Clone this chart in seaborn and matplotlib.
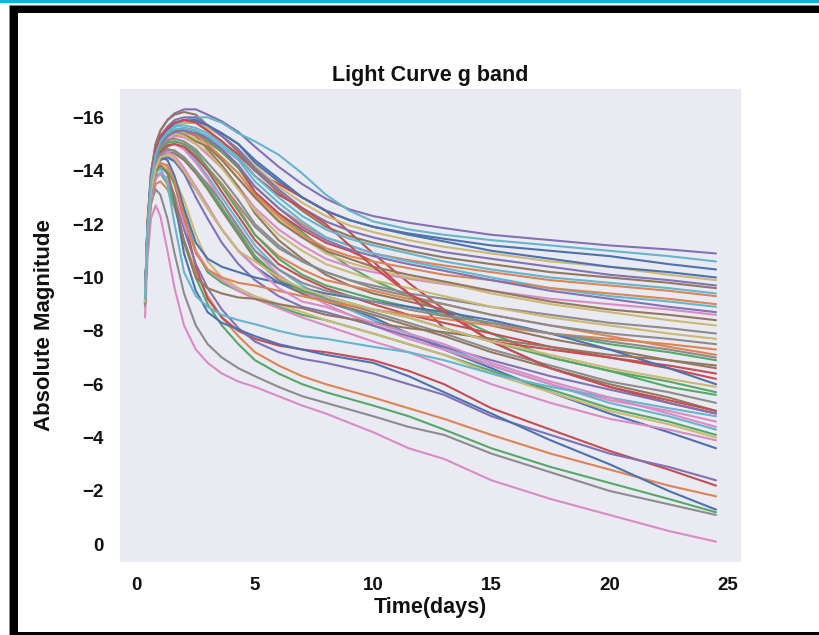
import matplotlib
matplotlib.use("Agg")
import matplotlib.pyplot as plt
from matplotlib.patches import Rectangle
import pandas as pd
import seaborn as sns

# Sampling epochs (days since explosion) shared by every model light curve
days = [0.35, 0.45, 0.6, 0.8, 1.0, 1.3, 1.6, 2.0, 2.5, 3.0, 3.6, 4.3, 5.0,
        6.0, 7.0, 8.0, 9.0, 10.0, 11.5, 13.0, 15.0, 17.5, 20.0, 22.5, 24.5]

# g-band absolute magnitudes, one list per model
mag_00 = [-9.1, -11.8, -13.5, -14.6, -15.1, -15.5, -15.75, -15.9, -15.9, -15.7, -15.4, -15.0, -14.3, -13.6, -13.0, -12.5, -12.15, -11.9, -11.65, -11.45, -11.2, -11.0, -10.8, -10.5, -10.3]
mag_01 = [-9.0, -11.6, -13.3, -14.4, -14.9, -15.25, -15.45, -15.5, -15.4, -15.1, -14.7, -14.1, -13.4, -12.6, -12.0, -11.5, -11.2, -10.9, -10.65, -10.45, -10.2, -9.9, -9.7, -9.5, -9.3]
mag_02 = [-9.3, -11.7, -13.3, -14.3, -14.8, -15.1, -15.3, -15.4, -15.4, -15.1, -14.7, -14.1, -13.2, -12.4, -11.7, -11.0, -10.4, -9.9, -9.3, -8.7, -7.9, -7.0, -6.5, -5.9, -5.6]
mag_03 = [-9.2, -11.9, -13.6, -14.6, -15.1, -15.45, -15.65, -15.8, -15.8, -15.5, -15.1, -14.6, -14.0, -13.5, -13.0, -12.5, -11.7, -10.9, -9.8, -8.8, -7.6, -6.6, -5.9, -5.3, -4.9]
mag_04 = [-9.3, -12.0, -13.9, -15.0, -15.5, -15.9, -16.15, -16.3, -16.3, -16.1, -15.85, -15.45, -14.9, -14.15, -13.5, -12.95, -12.55, -12.3, -12.05, -11.85, -11.6, -11.4, -11.2, -11.05, -10.9]
mag_05 = [-9.2, -12.0, -13.9, -15.0, -15.5, -15.9, -16.1, -16.2, -16.1, -15.7, -15.3, -14.7, -14.0, -13.2, -12.5, -11.9, -11.55, -11.3, -11.0, -10.75, -10.5, -10.2, -10.0, -9.8, -9.6]
mag_06 = [-9.0, -11.7, -13.4, -14.4, -14.8, -15.15, -15.3, -15.25, -15.0, -14.6, -14.1, -13.4, -12.6, -11.8, -11.2, -10.7, -10.4, -10.2, -9.95, -9.75, -9.5, -9.2, -9.0, -8.8, -8.6]
mag_07 = [-8.9, -11.5, -13.2, -14.2, -14.6, -14.9, -15.0, -14.9, -14.6, -14.1, -13.5, -12.7, -11.9, -11.1, -10.6, -10.2, -9.9, -9.7, -9.4, -9.2, -8.9, -8.6, -8.3, -8.1, -7.9]
mag_08 = [-9.1, -11.8, -13.5, -14.6, -15.1, -15.45, -15.65, -15.8, -15.8, -15.6, -15.3, -14.8, -14.2, -13.4, -12.8, -12.3, -11.95, -11.7, -11.4, -11.15, -10.9, -10.6, -10.4, -10.1, -9.9]
mag_09 = [-9.3, -11.6, -13.3, -14.4, -14.9, -15.4, -15.7, -15.9, -16.0, -16.0, -15.8, -15.4, -15.1, -14.6, -13.9, -13.1, -12.5, -12.1, -11.8, -11.6, -11.4, -11.2, -11.0, -10.8, -10.6]
mag_10 = [-9.0, -11.6, -13.3, -14.1, -14.4, -14.5, -14.35, -13.9, -13.3, -12.6, -11.8, -11.0, -10.4, -9.8, -9.4, -9.1, -8.8, -8.5, -7.9, -7.3, -6.6, -5.7, -4.9, -4.2, -3.6]
mag_11 = [-9.0, -11.3, -12.7, -13.5, -13.6, -13.3, -12.6, -11.4, -10.2, -9.3, -8.5, -7.8, -7.2, -6.7, -6.3, -6.0, -5.75, -5.5, -5.1, -4.7, -4.1, -3.4, -2.8, -2.2, -1.8]
mag_12 = [-9.1, -11.5, -13.0, -13.8, -13.9, -13.5, -12.7, -11.4, -10.0, -9.0, -8.2, -7.5, -6.9, -6.4, -6.0, -5.7, -5.45, -5.2, -4.8, -4.3, -3.6, -2.9, -2.3, -1.7, -1.2]
mag_13 = [-9.1, -11.6, -13.2, -14.0, -14.2, -14.1, -13.5, -12.2, -10.4, -9.2, -8.5, -8.0, -7.7, -7.45, -7.3, -7.2, -7.05, -6.9, -6.5, -6.0, -5.1, -4.3, -3.5, -2.8, -2.2]
mag_14 = [-9.0, -11.4, -12.9, -13.7, -13.9, -13.7, -13.0, -11.8, -10.5, -9.6, -8.8, -8.1, -7.6, -7.2, -6.95, -6.8, -6.6, -6.4, -6.0, -5.6, -4.8, -4.1, -3.4, -2.9, -2.4]
mag_15 = [-9.1, -11.7, -13.5, -14.5, -15.0, -15.3, -15.45, -15.5, -15.3, -14.8, -14.2, -13.4, -12.4, -11.4, -10.7, -10.1, -9.7, -9.4, -9.1, -8.8, -8.2, -7.7, -7.3, -6.9, -6.6]
mag_16 = [-8.5, -10.6, -12.2, -12.7, -12.3, -11.0, -9.6, -8.2, -7.3, -6.8, -6.4, -6.1, -5.9, -5.55, -5.2, -4.9, -4.55, -4.2, -3.6, -3.2, -2.4, -1.7, -1.1, -0.5, -0.1]
mag_17 = [-9.0, -11.2, -12.8, -13.3, -13.1, -12.2, -10.9, -9.4, -8.2, -7.5, -7.0, -6.6, -6.3, -5.9, -5.55, -5.3, -5.05, -4.8, -4.4, -4.1, -3.4, -2.7, -2.0, -1.5, -1.1]
mag_18 = [-9.0, -11.6, -13.4, -14.5, -15.0, -15.3, -15.4, -15.4, -15.2, -14.9, -14.4, -13.7, -13.0, -12.2, -11.5, -10.9, -10.55, -10.3, -10.0, -9.8, -9.4, -9.0, -8.7, -8.4, -8.2]
mag_19 = [-9.2, -11.6, -13.3, -14.3, -14.7, -14.95, -15.0, -14.85, -14.4, -13.8, -13.0, -12.1, -11.2, -10.3, -9.7, -9.2, -8.8, -8.4, -7.9, -7.4, -6.7, -6.0, -5.3, -4.8, -4.3]
mag_20 = [-9.1, -11.6, -13.2, -14.0, -14.2, -13.9, -12.9, -10.9, -9.5, -8.7, -8.3, -8.05, -7.8, -7.5, -7.3, -7.1, -6.95, -6.8, -6.3, -5.7, -4.9, -3.9, -3.0, -2.0, -1.3]
mag_21 = [-9.0, -11.6, -13.3, -14.3, -14.8, -15.05, -15.1, -15.0, -14.7, -14.1, -13.5, -12.6, -11.6, -10.8, -10.3, -9.9, -9.7, -9.5, -9.2, -9.0, -8.6, -8.2, -7.8, -7.4, -7.1]
mag_22 = [-9.1, -11.5, -13.1, -13.9, -14.1, -14.0, -13.5, -12.4, -11.0, -10.2, -9.8, -9.5, -9.2, -8.9, -8.6, -8.4, -8.15, -7.9, -7.5, -7.1, -6.5, -5.8, -5.1, -4.6, -4.1]
mag_23 = [-9.2, -11.8, -13.5, -14.5, -15.0, -15.3, -15.5, -15.6, -15.5, -15.2, -14.8, -14.2, -13.2, -12.4, -11.8, -11.3, -11.0, -10.6, -9.4, -8.1, -7.6, -7.3, -7.0, -6.7, -6.4]
mag_24 = [-9.1, -11.9, -13.7, -14.8, -15.3, -15.65, -15.9, -16.0, -16.0, -15.7, -15.3, -14.8, -14.1, -13.3, -12.6, -12.1, -11.75, -11.5, -11.2, -10.95, -10.7, -10.4, -10.1, -9.9, -9.7]
mag_25 = [-9.0, -11.5, -13.2, -14.1, -14.5, -14.7, -14.65, -14.4, -13.9, -13.3, -12.5, -11.6, -10.7, -9.9, -9.4, -9.1, -8.85, -8.6, -8.2, -7.8, -7.2, -6.6, -6.0, -5.5, -5.0]
mag_26 = [-9.1, -11.7, -13.4, -14.3, -14.7, -14.95, -15.0, -14.8, -14.3, -13.7, -12.8, -11.8, -11.0, -10.1, -9.5, -9.0, -8.6, -8.2, -7.7, -7.3, -6.7, -6.0, -5.4, -5.0, -4.6]
mag_27 = [-9.0, -11.6, -13.3, -14.2, -14.6, -14.8, -14.75, -14.5, -14.0, -13.4, -12.6, -11.7, -10.8, -10.0, -9.5, -9.2, -8.95, -8.7, -8.3, -7.9, -7.3, -6.7, -6.1, -5.7, -5.3]
mag_28 = [-9.0, -11.5, -13.1, -14.0, -14.2, -14.1, -13.7, -12.9, -11.6, -10.6, -10.0, -9.6, -9.3, -9.0, -8.7, -8.4, -8.15, -7.9, -7.5, -7.1, -6.4, -5.7, -5.0, -4.5, -4.0]
mag_29 = [-9.2, -11.8, -13.5, -14.6, -15.1, -15.4, -15.55, -15.6, -15.5, -15.3, -14.9, -14.4, -13.6, -12.8, -12.1, -11.5, -11.2, -10.9, -10.6, -10.35, -10.0, -9.6, -9.3, -9.1, -8.9]
mag_30 = [-9.1, -11.8, -13.6, -14.7, -15.2, -15.55, -15.8, -15.9, -15.85, -15.7, -15.4, -15.0, -14.4, -13.7, -13.0, -12.5, -12.15, -11.9, -11.6, -11.35, -11.0, -10.7, -10.4, -10.2, -10.0]
mag_31 = [-9.0, -11.7, -13.5, -14.5, -15.0, -15.3, -15.45, -15.5, -15.35, -15.0, -14.5, -13.9, -13.1, -12.3, -11.6, -11.1, -10.8, -10.6, -10.35, -10.1, -9.9, -9.6, -9.4, -9.2, -9.0]
mag_32 = [-9.1, -11.6, -13.4, -14.4, -14.8, -15.05, -15.1, -15.0, -14.7, -14.1, -13.4, -12.5, -11.6, -10.7, -10.1, -9.7, -9.45, -9.2, -8.9, -8.6, -8.3, -7.9, -7.5, -7.2, -6.9]
mag_33 = [-9.0, -11.6, -13.3, -14.3, -14.7, -14.95, -15.0, -14.9, -14.5, -14.0, -13.2, -12.3, -11.4, -10.5, -10.0, -9.6, -9.3, -9.0, -8.6, -8.3, -7.9, -7.4, -7.0, -6.6, -6.2]
mag_34 = [-9.1, -11.6, -13.2, -14.1, -14.5, -14.6, -14.4, -13.9, -13.0, -12.2, -11.3, -10.5, -9.9, -9.3, -8.9, -8.7, -8.45, -8.2, -7.8, -7.4, -6.9, -6.3, -5.8, -5.3, -4.9]
mag_35 = [-9.1, -11.7, -13.5, -14.5, -15.0, -15.3, -15.4, -15.35, -15.1, -14.9, -14.4, -13.7, -13.0, -12.1, -11.5, -11.0, -10.7, -10.4, -10.1, -9.85, -9.5, -9.1, -8.8, -8.6, -8.4]
mag_36 = [-9.0, -11.4, -12.9, -13.7, -13.9, -13.7, -13.1, -12.0, -11.0, -10.3, -9.9, -9.5, -9.2, -8.85, -8.5, -8.2, -7.9, -7.6, -7.2, -6.7, -6.0, -5.3, -4.7, -4.3, -3.9]
mag_37 = [-9.1, -11.7, -13.4, -14.4, -14.9, -15.15, -15.2, -15.1, -14.8, -14.3, -13.7, -12.9, -12.0, -11.2, -10.6, -10.2, -9.9, -9.6, -9.3, -9.0, -8.6, -8.2, -7.9, -7.7, -7.5]
mag_38 = [-9.0, -11.7, -13.5, -14.5, -15.0, -15.3, -15.4, -15.3, -15.0, -14.7, -14.1, -13.3, -12.5, -11.6, -11.0, -10.5, -10.2, -9.9, -9.6, -9.3, -8.9, -8.5, -8.2, -7.9, -7.7]
mag_39 = [-9.2, -11.6, -13.2, -13.9, -14.1, -13.5, -12.0, -10.2, -9.3, -8.9, -8.6, -8.4, -8.25, -8.0, -7.8, -7.7, -7.55, -7.4, -7.2, -6.9, -6.4, -5.9, -5.5, -5.1, -4.8]
mag_40 = [-9.1, -11.6, -13.3, -14.2, -14.5, -14.4, -13.8, -12.6, -11.3, -10.7, -10.4, -10.2, -10.0, -9.8, -9.6, -9.4, -9.25, -9.1, -8.9, -8.7, -8.4, -7.9, -7.3, -6.6, -6.0]
mag_41 = [-9.0, -11.5, -13.1, -14.0, -14.3, -14.2, -13.6, -12.3, -10.9, -10.3, -10.0, -9.8, -9.7, -9.5, -9.3, -9.1, -8.95, -8.8, -8.6, -8.45, -8.2, -7.9, -7.7, -7.5, -7.3]
mag_42 = [-9.1, -11.6, -13.3, -14.2, -14.6, -14.8, -14.75, -14.5, -14.0, -13.4, -12.6, -11.7, -10.8, -10.0, -9.5, -9.3, -9.05, -8.8, -8.5, -8.1, -7.6, -7.0, -6.5, -6.1, -5.7]
mag_43 = [-9.2, -11.9, -13.7, -14.8, -15.3, -15.6, -15.8, -15.9, -15.8, -15.5, -15.1, -14.5, -13.8, -13.1, -12.6, -12.0, -11.2, -10.4, -9.4, -8.7, -7.6, -6.6, -5.9, -5.4, -5.0]
mag_44 = [-9.1, -11.7, -13.5, -14.5, -15.0, -15.3, -15.45, -15.5, -15.4, -15.2, -14.8, -14.2, -13.4, -12.6, -11.9, -11.4, -11.05, -10.8, -10.5, -10.25, -9.9, -9.5, -9.2, -8.9, -8.7]
mag_45 = [-9.0, -11.5, -13.1, -14.0, -14.2, -13.9, -13.0, -11.3, -10.0, -9.6, -9.4, -9.25, -9.2, -9.0, -8.85, -8.6, -8.45, -8.3, -8.1, -7.95, -7.7, -7.4, -7.1, -6.9, -6.7]
mag_46 = [-9.1, -11.6, -13.3, -14.2, -14.6, -14.7, -14.55, -14.1, -13.4, -12.7, -11.8, -11.0, -10.4, -9.6, -9.1, -8.9, -8.6, -8.3, -7.9, -7.5, -6.8, -6.1, -5.5, -4.9, -4.4]
mag_47 = [-9.0, -11.6, -13.3, -14.2, -14.6, -14.8, -14.75, -14.5, -14.0, -13.5, -12.8, -11.9, -11.0, -10.3, -9.8, -9.5, -9.3, -9.1, -8.8, -8.55, -8.3, -7.9, -7.6, -7.3, -7.0]
mag_48 = [-9.1, -11.6, -13.2, -14.1, -14.5, -14.6, -14.45, -14.0, -13.3, -12.6, -11.8, -11.0, -10.6, -10.0, -9.6, -9.3, -9.05, -8.8, -8.5, -8.1, -7.6, -7.1, -6.6, -6.2, -5.9]
mag_49 = [-9.2, -11.8, -13.6, -14.6, -15.1, -15.45, -15.65, -15.7, -15.6, -15.4, -15.0, -14.5, -13.8, -13.0, -12.3, -11.8, -11.45, -11.2, -10.9, -10.6, -10.3, -10.0, -9.8, -9.6, -9.4]

curves = [
    mag_00, mag_01, mag_02, mag_03, mag_04, mag_05, mag_06, mag_07, mag_08, mag_09,
    mag_10, mag_11, mag_12, mag_13, mag_14, mag_15, mag_16, mag_17, mag_18, mag_19,
    mag_20, mag_21, mag_22, mag_23, mag_24, mag_25, mag_26, mag_27, mag_28, mag_29,
    mag_30, mag_31, mag_32, mag_33, mag_34, mag_35, mag_36, mag_37, mag_38, mag_39,
    mag_40, mag_41, mag_42, mag_43, mag_44, mag_45, mag_46, mag_47, mag_48, mag_49,
]

y_ticks = [-16, -14, -12, -10, -8, -6, -4, -2, 0]
x_ticks = [0, 5, 10, 15, 20, 25]

rows = []
for idx, mags in enumerate(curves):
    assert len(mags) == len(days), idx
    for t, m in zip(days, mags):
        rows.append({"model": idx, "time": t, "mag": m})
df = pd.DataFrame(rows)

sns.set_theme(style="dark")
plt.rcParams["font.family"] = ["Liberation Sans", "DejaVu Sans"]
ink = "#111111"

fig = plt.figure(figsize=(8.2, 6.35), dpi=100)
ax = fig.add_axes([119 / 820, 1 - 563 / 635, 623 / 820, 475 / 635])

sns.lineplot(
    data=df, x="time", y="mag", hue="model",
    palette=sns.color_palette("deep", len(curves)),
    estimator=None, sort=False, legend=False, linewidth=1.5, ax=ax,
)

ax.set_xlim(-0.75, 25.6)
ax.set_ylim(0.7, -17.1)
ax.set_xticks(x_ticks)
ax.set_yticks(y_ticks)
ax.set_xticklabels([str(v) for v in x_ticks])
ax.set_yticklabels([str(v).replace("-", "\u2212") for v in y_ticks])
ax.tick_params(axis="x", pad=4, labelsize=13.5, colors=ink)
ax.tick_params(axis="y", pad=5, labelsize=13.5, colors=ink)
for lab in ax.get_xticklabels() + ax.get_yticklabels():
    lab.set_fontweight("bold")

ax.set_title("Light Curve g band", fontsize=15.5, fontweight="bold", color=ink, pad=5)
ax.set_xlabel("Time(days)", fontsize=15.5, fontweight="bold", color=ink)
ax.set_ylabel("Absolute Magnitude", fontsize=16, fontweight="bold", color=ink)
ax.xaxis.label.set(ha="center", va="center")
ax.yaxis.label.set(ha="center", va="center")
ax.xaxis.set_label_coords(0.5, -(607 - 563) / 475)
ax.yaxis.set_label_coords(-(119 - 45) / 623, 0.5)

# Page frame around the figure
W, H = 820.0, 635.0
def band(x0, y0, w, h, color):
    fig.add_artist(Rectangle((x0 / W, y0 / H), w / W, h / H, transform=fig.transFigure,
                             facecolor=color, edgecolor="none", zorder=20))

band(0, H - 3, W, 3, "#17ADE8")
band(9, 0, 1, H - 5, "#8a8a8a")
band(9, H - 6, W, 1, "#8a8a8a")
band(10, H - 13, W, 7, "#000000")
band(10, 0, 8, H - 6, "#000000")
band(10, 0, W, 3, "#000000")

fig.savefig("out.png", dpi=100)
